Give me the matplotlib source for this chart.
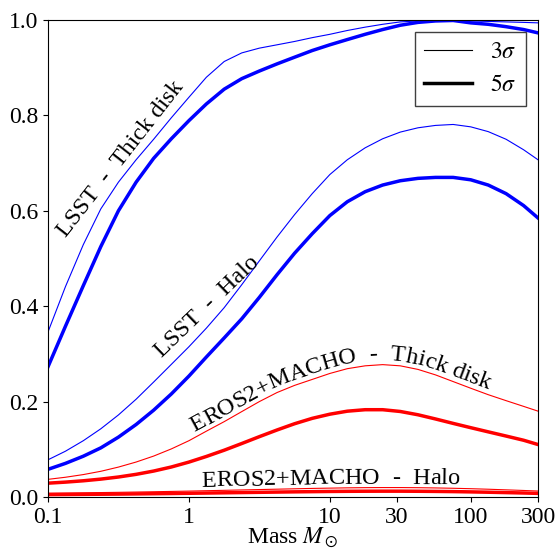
"""Detection efficiency vs lens mass for LSST and EROS2+MACHO (3 and 5 sigma)."""

import numpy as np
import matplotlib
matplotlib.use("Agg")
import matplotlib.pyplot as plt
from matplotlib.lines import Line2D
from matplotlib.font_manager import FontProperties
from matplotlib.transforms import IdentityTransform

plt.rcParams["font.family"] = "serif"
plt.rcParams["font.serif"] = ["Liberation Serif", "DejaVu Serif"]
plt.rcParams["mathtext.fontset"] = "stix"
FS = 17
FS_LABEL = 17.5

mass = [0.1, 0.133, 0.178, 0.237, 0.316, 0.422, 0.562, 0.75, 1, 1.33, 1.78, 2.37, 3.16, 4.22, 5.62,
        7.5, 10, 13.3, 17.8, 23.7, 31.6, 42.2, 56.2, 75, 100, 133, 178, 237, 300]

lsst_disk_3 = [0.346, 0.441, 0.529, 0.604, 0.660, 0.707, 0.750, 0.795, 0.838, 0.880, 0.913, 0.931,
               0.941, 0.948, 0.955, 0.963, 0.970, 0.978, 0.985, 0.991, 0.996, 0.998, 0.999, 0.999,
               0.998, 0.997, 0.996, 0.995, 0.994]
lsst_disk_5 = [0.273, 0.358, 0.443, 0.525, 0.600, 0.660, 0.710, 0.751, 0.789, 0.824, 0.855, 0.877,
               0.893, 0.908, 0.922, 0.936, 0.948, 0.959, 0.970, 0.980, 0.989, 0.995, 0.998, 0.999,
               0.994, 0.991, 0.986, 0.980, 0.973]
lsst_halo_3 = [0.078, 0.096, 0.118, 0.143, 0.172, 0.205, 0.241, 0.278, 0.315, 0.354, 0.397, 0.445,
               0.495, 0.545, 0.592, 0.636, 0.676, 0.707, 0.732, 0.751, 0.765, 0.774, 0.779, 0.781,
               0.776, 0.766, 0.750, 0.728, 0.707]
lsst_halo_5 = [0.058, 0.0705, 0.0855, 0.103, 0.1255, 0.152, 0.182, 0.216, 0.2535, 0.2935, 0.3335,
               0.3735, 0.4185, 0.466, 0.511, 0.552, 0.590, 0.619, 0.640, 0.654, 0.663, 0.668, 0.670,
               0.670, 0.665, 0.654, 0.636, 0.611, 0.585]
eros_disk_3 = [0.037, 0.0414, 0.047, 0.0539, 0.0627, 0.0733, 0.0858, 0.1008, 0.118, 0.138, 0.158,
               0.179, 0.200, 0.219, 0.234, 0.2465, 0.259, 0.269, 0.275, 0.2775, 0.275, 0.2675, 0.256,
               0.242, 0.228, 0.2145, 0.202, 0.190, 0.180]
eros_disk_5 = [0.029, 0.0312, 0.034, 0.0375, 0.0419, 0.0475, 0.0544, 0.0629, 0.0732, 0.085, 0.0981,
               0.1121, 0.1265, 0.1405, 0.1536, 0.1649, 0.1736, 0.1799, 0.183, 0.183, 0.1793, 0.1724,
               0.1636, 0.1543, 0.1453, 0.1366, 0.1278, 0.119, 0.110]
eros_halo_3 = [0.0080, 0.0084, 0.0088, 0.0093, 0.0098, 0.0104, 0.0110, 0.0117, 0.0124, 0.0132, 0.0140,
               0.0148, 0.0156, 0.0164, 0.0172, 0.0180, 0.0186, 0.0192, 0.0196, 0.0198, 0.0198, 0.0195,
               0.0190, 0.0183, 0.0174, 0.0163, 0.0150, 0.0137, 0.0125]
eros_halo_5 = [0.0050, 0.0052, 0.0055, 0.0058, 0.0061, 0.0065, 0.0069, 0.0073, 0.0078, 0.0083, 0.0088,
               0.0093, 0.0098, 0.0103, 0.0108, 0.0112, 0.0116, 0.0119, 0.0121, 0.0122, 0.0122, 0.0120,
               0.0117, 0.0113, 0.0107, 0.0100, 0.0092, 0.0084, 0.0076]

x_ticks = [0.1, 1, 10, 30, 100, 300]
x_ticklabels = ["0.1", "1", "10", "30", "100", "300"]
y_ticks = [0.0, 0.2, 0.4, 0.6, 0.8, 1.0]

fig = plt.figure(figsize=(5.58, 5.49), dpi=100)
ax = fig.add_axes([48 / 558, 52 / 549, 490 / 558, 477 / 549])

THIN, THICK = 0.8, 2.5
ax.plot(mass, lsst_disk_3, color="blue", lw=THIN)
ax.plot(mass, lsst_disk_5, color="blue", lw=THICK)
ax.plot(mass, lsst_halo_3, color="blue", lw=THIN)
ax.plot(mass, lsst_halo_5, color="blue", lw=THICK)
ax.plot(mass, eros_disk_3, color="red", lw=THIN)
ax.plot(mass, eros_disk_5, color="red", lw=THICK)
ax.plot(mass, eros_halo_3, color="red", lw=THIN)
ax.plot(mass, eros_halo_5, color="red", lw=THICK)

ax.set_xscale("log")
ax.set_xlim(0.1, 300)
ax.set_ylim(0, 1)
ax.set_xticks(x_ticks)
ax.set_xticklabels(x_ticklabels)
ax.minorticks_off()
ax.set_yticks(y_ticks)
ax.set_yticklabels([f"{v:.1f}" for v in y_ticks])
ax.tick_params(labelsize=FS)
ax.set_xlabel(r"Mass $M_\odot$", fontsize=FS, labelpad=-1.5)

handles = [Line2D([], [], color="k", lw=THIN), Line2D([], [], color="k", lw=THICK)]
ax.legend(handles, [r"$3\sigma$", r"$5\sigma$"], loc="upper right", fontsize=FS,
          fancybox=False, edgecolor="0.25", framealpha=1)

ax.text(0.354, 0.7015, "LSST  -  Thick disk", fontsize=FS_LABEL, rotation=52,
        rotation_mode="anchor", ha="center", va="baseline")
ax.text(1.43, 0.390, "LSST  -  Halo", fontsize=FS_LABEL, rotation=44,
        rotation_mode="anchor", ha="center", va="baseline")


def curved_text(xs, ys, text, x_start, offset):
    """Lay text letter by letter along a data curve, offset in pixels."""
    pts = ax.transData.transform(np.column_stack([xs, ys]))
    d = np.gradient(pts, axis=0)
    n = np.column_stack([-d[:, 1], d[:, 0]])
    n /= np.hypot(n[:, 0], n[:, 1])[:, None]
    p = pts + offset * n
    s = np.concatenate([[0], np.cumsum(np.hypot(np.diff(p[:, 0]), np.diff(p[:, 1])))])
    x0 = ax.transData.transform((x_start, 0))[0]
    pos = np.interp(x0, p[:, 0], s)

    renderer = fig.canvas.get_renderer()
    fp = FontProperties(family="serif", size=FS_LABEL)

    def width(t):
        return renderer.get_text_width_height_descent(t, fp, ismath=False)[0]

    base = width("II")
    for ch in text:
        adv = width("I" + ch + "I") - base
        mid = pos + adv / 2
        if ch != " ":
            cx, cy = np.interp(mid, s, p[:, 0]), np.interp(mid, s, p[:, 1])
            x1, y1 = np.interp(mid - 8, s, p[:, 0]), np.interp(mid - 8, s, p[:, 1])
            x2, y2 = np.interp(mid + 8, s, p[:, 0]), np.interp(mid + 8, s, p[:, 1])
            ang = np.degrees(np.arctan2(y2 - y1, x2 - x1))
            ax.text(cx, cy, ch, transform=IdentityTransform(), fontproperties=fp,
                    rotation=ang, rotation_mode="anchor", ha="center", va="baseline")
        pos += adv


curved_text(mass, eros_disk_3, "EROS2+MACHO  -  Thick disk", 1.10, 5)
curved_text(mass, eros_halo_3, "EROS2+MACHO  -  Halo", 1.23, 4)

fig.savefig("out.png", dpi=100)
